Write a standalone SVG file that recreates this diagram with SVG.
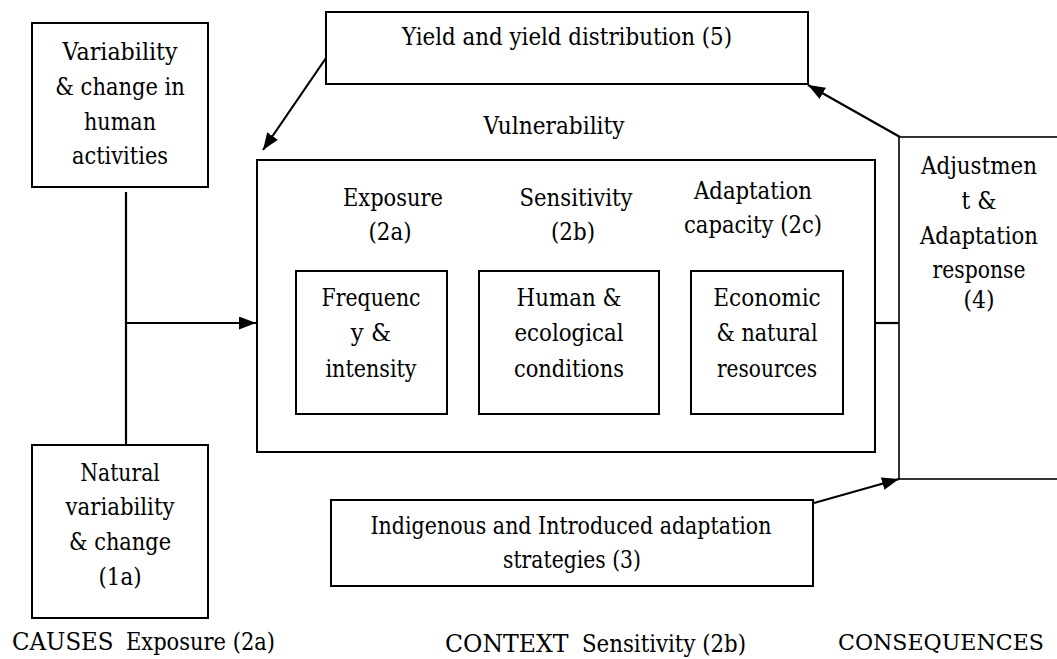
<svg xmlns="http://www.w3.org/2000/svg" width="1057" height="659" viewBox="0 0 1057 659">
<defs>
<style>
.box{fill:#fff;stroke:#000;stroke-width:2}
.thin{fill:#fff;stroke:#000;stroke-width:1.6}
.ln{fill:none;stroke:#000;stroke-width:2.2}
text{font-family:"DejaVu Serif",serif;font-size:24.5px;fill:#000}
.c{text-anchor:middle}
.s{font-size:23px}
</style>
<marker id="ah" markerUnits="userSpaceOnUse" markerWidth="18" markerHeight="14" refX="17" refY="6.5" orient="auto">
<path d="M0,0 L17,6.5 L0,13 z" fill="#000"/>
</marker>
</defs>
<rect width="1057" height="659" fill="#fff"/>

<g id="connectors">
<line class="ln" x1="126" y1="192" x2="126" y2="445"/>
<line class="ln" x1="126" y1="323" x2="256" y2="323" marker-end="url(#ah)"/>
<line class="ln" x1="326" y1="58" x2="263" y2="150" marker-end="url(#ah)"/>
<line class="ln" x1="900" y1="137" x2="808" y2="85" marker-end="url(#ah)"/>
<line class="ln" x1="814" y1="503" x2="899" y2="479" marker-end="url(#ah)"/>
<line class="ln" x1="447" y1="351" x2="479" y2="351"/>
<line class="ln" x1="659" y1="347" x2="691" y2="347"/>
<line class="ln" x1="875" y1="323" x2="899" y2="323"/>
</g>

<g id="human-activities">
<rect class="box" x="32" y="23" width="176" height="164"/>
<text class="c" x="120" y="60" textLength="115" lengthAdjust="spacingAndGlyphs">Variability</text>
<text class="c" x="120" y="95" textLength="129.5" lengthAdjust="spacingAndGlyphs">&amp; change in</text>
<text class="c" x="120" y="130" textLength="72" lengthAdjust="spacingAndGlyphs">human</text>
<text class="c" x="120" y="164" textLength="96" lengthAdjust="spacingAndGlyphs">activities</text>
</g>

<g id="natural-variability">
<rect class="box" x="32" y="445" width="176" height="173"/>
<text class="c" x="120" y="481" textLength="79.5" lengthAdjust="spacingAndGlyphs">Natural</text>
<text class="c" x="120" y="515" textLength="109" lengthAdjust="spacingAndGlyphs">variability</text>
<text class="c" x="120" y="550" textLength="102" lengthAdjust="spacingAndGlyphs">&amp; change</text>
<text class="c" x="120" y="585" textLength="43" lengthAdjust="spacingAndGlyphs">(1a)</text>
</g>

<g id="yield">
<rect class="box" x="326" y="12" width="482" height="72"/>
<text class="c" x="567" y="45" textLength="330" lengthAdjust="spacingAndGlyphs">Yield and yield distribution (5)</text>
</g>

<g id="vulnerability">
<text class="c" x="554" y="134" textLength="141" lengthAdjust="spacingAndGlyphs">Vulnerability</text>
<rect class="box" x="257" y="160" width="618" height="292"/>
<text class="c" x="393" y="206" textLength="100" lengthAdjust="spacingAndGlyphs">Exposure</text>
<text class="c" x="390" y="240" textLength="43" lengthAdjust="spacingAndGlyphs">(2a)</text>
<text class="c" x="576" y="206" textLength="113" lengthAdjust="spacingAndGlyphs">Sensitivity</text>
<text class="c" x="573" y="240" textLength="44" lengthAdjust="spacingAndGlyphs">(2b)</text>
<text class="c" x="753" y="199" textLength="118" lengthAdjust="spacingAndGlyphs">Adaptation</text>
<text class="c" x="753" y="233" textLength="138" lengthAdjust="spacingAndGlyphs">capacity (2c)</text>
</g>

<g id="frequency">
<rect class="box" x="296" y="271" width="151" height="143"/>
<text class="c" x="371" y="306" textLength="99" lengthAdjust="spacingAndGlyphs">Frequenc</text>
<text class="c" x="371" y="341" textLength="40.5" lengthAdjust="spacingAndGlyphs">y &amp;</text>
<text class="c" x="371" y="377" textLength="91" lengthAdjust="spacingAndGlyphs">intensity</text>
</g>

<g id="human-ecological">
<rect class="box" x="479" y="271" width="180" height="143"/>
<text class="c" x="569" y="306" textLength="105" lengthAdjust="spacingAndGlyphs">Human &amp;</text>
<text class="c" x="569" y="341" textLength="109" lengthAdjust="spacingAndGlyphs">ecological</text>
<text class="c" x="569" y="377" textLength="110" lengthAdjust="spacingAndGlyphs">conditions</text>
</g>

<g id="economic">
<rect class="box" x="691" y="271" width="152" height="143"/>
<text class="c" x="767" y="306" textLength="107.5" lengthAdjust="spacingAndGlyphs">Economic</text>
<text class="c" x="767" y="341" textLength="101" lengthAdjust="spacingAndGlyphs">&amp; natural</text>
<text class="c" x="767" y="377" textLength="100" lengthAdjust="spacingAndGlyphs">resources</text>
</g>

<g id="adjustment">
<rect class="thin" x="899" y="137" width="162" height="342"/>
<text class="c" x="979" y="174" textLength="116" lengthAdjust="spacingAndGlyphs">Adjustmen</text>
<text class="c" x="979" y="209" textLength="35" lengthAdjust="spacingAndGlyphs">t &amp;</text>
<text class="c" x="979" y="244" textLength="118" lengthAdjust="spacingAndGlyphs">Adaptation</text>
<text class="c" x="979" y="278" textLength="93" lengthAdjust="spacingAndGlyphs">response</text>
<text class="c" x="979" y="308" textLength="31" lengthAdjust="spacingAndGlyphs">(4)</text>
</g>

<g id="strategies">
<rect class="box" x="331" y="500" width="482" height="86"/>
<text class="c" x="571" y="534" textLength="401" lengthAdjust="spacingAndGlyphs">Indigenous and Introduced adaptation</text>
<text class="c" x="572" y="568" textLength="138" lengthAdjust="spacingAndGlyphs">strategies (3)</text>
</g>

<g id="footer">
<text x="12" y="650" textLength="101.5" lengthAdjust="spacingAndGlyphs">CAUSES</text>
<text x="126" y="650" textLength="149" lengthAdjust="spacingAndGlyphs">Exposure (2a)</text>
<text x="445" y="652" textLength="123.5" lengthAdjust="spacingAndGlyphs">CONTEXT</text>
<text x="582" y="652" textLength="164" lengthAdjust="spacingAndGlyphs">Sensitivity (2b)</text>
<text class="c s" x="941" y="650" textLength="206" lengthAdjust="spacingAndGlyphs">CONSEQUENCES</text>
</g>
</svg>
